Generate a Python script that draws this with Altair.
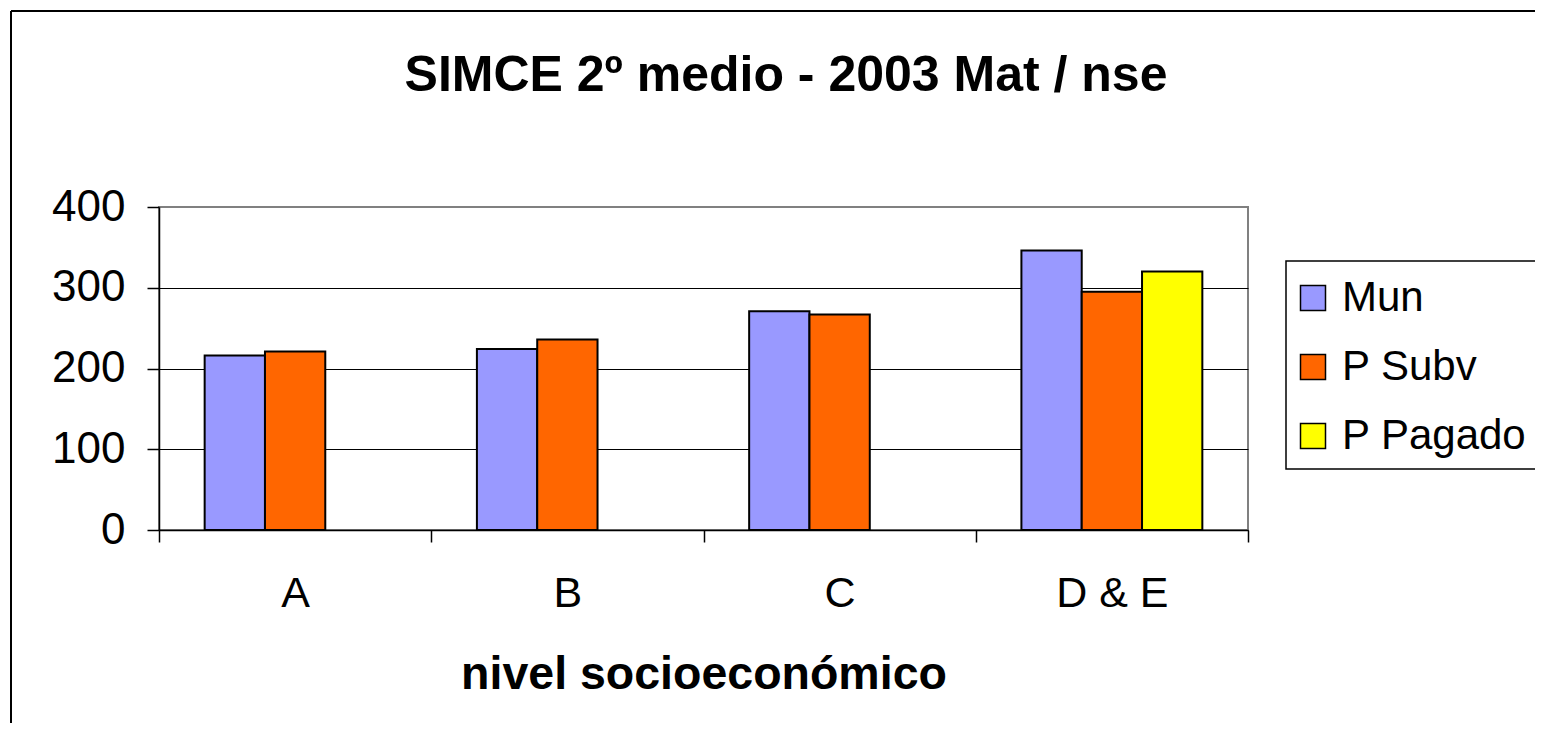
import altair as alt
import pandas as pd

categories = ["A", "B", "C", "D & E"]
series = ["Mun", "P Subv", "P Pagado"]
mun = [216, 224, 271, 346]
p_subv = [221, 236, 267, 295]
p_pagado = [None, None, None, 320]
colors = ["#9999FF", "#FF6600", "#FFFF00"]
y_ticks = [0, 100, 200, 300, 400]

rows = []
for i, c in enumerate(categories):
    for s, vals in zip(series, [mun, p_subv, p_pagado]):
        if vals[i] is not None:
            rows.append({"nse": c, "tipo": s, "valor": vals[i]})
df = pd.DataFrame(rows)

FONT = "Liberation Sans"
W, H = 1089, 323
PL, PT = 151, 199
SVG_W, SVG_H = 1527, 715
OX, OY = 8 + PL, 8 + PT  # page position of plot origin

bars = alt.Chart(df).mark_bar(stroke="black", strokeWidth=2).encode(
    x=alt.X("nse:N", sort=categories,
            scale=alt.Scale(paddingInner=0, paddingOuter=0),
            axis=alt.Axis(title="nivel socioeconómico", labelAngle=0,
                          tickBand="extent", tickSize=12, labelPadding=30,
                          labelFontSize=43, titleFontSize=46.5, titleFontWeight="bold",
                          titlePadding=36, labelFont=FONT, titleFont=FONT,
                          labelColor="black", titleColor="black",
                          domainColor="black", domainWidth=1.5, tickColor="black",
                          tickWidth=1.5, grid=False)),
    xOffset=alt.XOffset("tipo:N", sort=series,
                        scale=alt.Scale(domain=series, paddingInner=0, paddingOuter=0.757)),
    y=alt.Y("valor:Q", scale=alt.Scale(domain=[0, 400], nice=False),
            axis=alt.Axis(title=None, values=y_ticks, tickSize=12, labelPadding=22,
                          labelFontSize=44, labelFont=FONT, labelColor="black",
                          domainColor="black", domainWidth=1.5, tickColor="black",
                          tickWidth=1.5, grid=True,
                          gridColor=alt.condition("datum.value == 400", alt.value("#808080"), alt.value("black")),
                          gridWidth=1.2)),
    color=alt.Color("tipo:N", sort=series,
                    scale=alt.Scale(domain=series, range=colors),
                    legend=alt.Legend(title=None, orient="none",
                                      legendX=1277 - OX, legendY=262 - OY,
                                      symbolType="square", symbolSize=625,
                                      symbolStrokeColor="black", symbolStrokeWidth=1.5,
                                      symbolOpacity=1, labelLimit=0,
                                      labelFontSize=42, labelFont=FONT, labelColor="black",
                                      labelOffset=8, rowPadding=27, padding=15)),
)

one = pd.DataFrame({"k": [0]})
frame_left = alt.Chart(one).mark_rule(color="black", strokeWidth=2).encode(
    x=alt.value(3 - PL), y=alt.value(3 - PT), y2=alt.value(SVG_H - PT))
frame_top = alt.Chart(one).mark_rule(color="black", strokeWidth=2).encode(
    x=alt.value(3 - PL), x2=alt.value(SVG_W - PL), y=alt.value(3 - PT))
legend_box = alt.Chart(one).mark_rect(filled=False, stroke="black", strokeWidth=1.5).encode(
    x=alt.value(1286 - OX), x2=alt.value(SVG_W - PL + 20),
    y=alt.value(261 - OY), y2=alt.value(469 - OY))

title = alt.Chart(pd.DataFrame({"t": ["SIMCE 2º medio - 2003 Mat / nse"]})).mark_text(
    font=FONT, fontSize=50, fontWeight="bold", color="black",
    align="center", baseline="alphabetic").encode(
    text="t:N", x=alt.value(786 - OX), y=alt.value(91 - OY))

chart = alt.layer(frame_left, frame_top, legend_box, bars, title).properties(
    width=W, height=H,
    autosize=alt.AutoSizeParams(type="none"),
    padding={"left": PL, "top": PT, "right": SVG_W - PL - W, "bottom": SVG_H - PT - H},
    background="white",
).configure_view(stroke="#808080", strokeWidth=2)

chart.save("out.html", embed_options={"renderer": "svg", "actions": False})
